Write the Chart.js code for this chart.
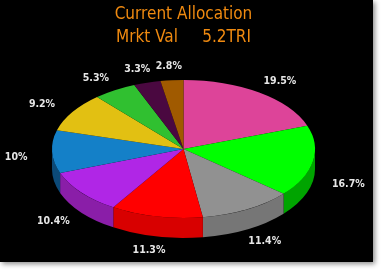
<!DOCTYPE html>
<html>
<head>
<meta charset="utf-8">
<script src="https://cdn.jsdelivr.net/npm/chart.js@4/dist/chart.umd.min.js"></script>
<style>
  html, body { margin: 0; padding: 0; background: #fff; }
  #frame {
    position: absolute; left: 0; top: 0;
    width: 373px; height: 262px;
    background: #000;
    box-shadow: 2px 2px 5px rgba(0, 0, 0, 0.45);
  }
  canvas { display: block; }
</style>
</head>
<body>
<div id="frame"><canvas id="allocChart" width="373" height="262"></canvas></div>
<script>
// chart data
const titleLines = ['Current Allocation', 'Mrkt Val     5.2TRI'];
const sliceLabels = ['19.5%', '16.7%', '11.4%', '11.3%', '10.4%', '10%', '9.2%', '5.3%', '3.3%', '2.8%'];
const sliceValues = [19.5, 16.7, 11.4, 11.3, 10.4, 10, 9.2, 5.3, 3.3, 2.8];
const topColors = ['#dd4499', '#00ff00', '#919191', '#ff0000', '#b026e6', '#1480c8', '#e2c012', '#30c030', '#4a0840', '#a05a00'];
const sideColors = ['#9c2c6c', '#00a400', '#767676', '#d80000', '#8a1ea8', '#0c4a78', '#a08a0c', '#208a20', '#300428', '#703e00'];

const STRETCH_X = 1.906;  // ellipse width / height
const DEPTH = 20;         // thickness of the pie

function norm(a) {
    const t = Math.PI * 2;
    return ((a % t) + t) % t;
}

// draws the side wall, squashes the top, puts the percent labels
const pie3d = {
    id: 'pie3d',
    beforeDatasetsDraw(chart) {
        const ctx = chart.ctx;
        const arcs = chart.getDatasetMeta(0).data;
        if (!arcs.length) return;
        const cx = arcs[0].x, cy = arcs[0].y, r = arcs[0].outerRadius;
        const rx = r * STRETCH_X, ry = r;

        // front wall, only the half facing us (angles 0..PI)
        arcs.forEach((arc, i) => {
            let a0 = norm(arc.startAngle);
            let a1 = a0 + (arc.endAngle - arc.startAngle);
            const parts = [[a0, a1], [a0 - Math.PI * 2, a1 - Math.PI * 2]];
            parts.forEach(([s, e]) => {
                const s2 = Math.max(s, 0), e2 = Math.min(e, Math.PI);
                if (e2 <= s2) return;
                ctx.save();
                ctx.beginPath();
                ctx.ellipse(cx, cy, rx, ry, 0, s2, e2, false);
                ctx.ellipse(cx, cy + DEPTH, rx, ry, 0, e2, s2, true);
                ctx.closePath();
                ctx.fillStyle = sideColors[i];
                ctx.fill();
                ctx.restore();
            });
        });

        ctx.save();
        ctx.translate(cx, cy);
        ctx.scale(STRETCH_X, 1);
        ctx.translate(-cx, -cy);
    },
    afterDatasetsDraw(chart) {
        const ctx = chart.ctx;
        ctx.restore();
        const arcs = chart.getDatasetMeta(0).data;
        if (!arcs.length) return;
        const cx = arcs[0].x, cy = arcs[0].y, r = arcs[0].outerRadius;
        const lx = r * STRETCH_X + 36, ly = r + 14;

        ctx.save();
        ctx.font = 'bold 10.5px "DejaVu Sans Condensed", "DejaVu Sans", sans-serif';
        ctx.fillStyle = '#e6e6e6';
        ctx.textAlign = 'center';
        ctx.textBaseline = 'middle';
        arcs.forEach((arc, i) => {
            const mid = (arc.startAngle + arc.endAngle) / 2;
            const s = Math.sin(mid + Math.PI / 2), c = Math.cos(mid + Math.PI / 2);
            let x = cx + lx * s;
            let y = cy - ly * c;
            if (c < 0) y += DEPTH * Math.min(1, -c * 6);
            ctx.fillText(sliceLabels[i], x, y);
        });
        ctx.restore();
    }
};

document.addEventListener('DOMContentLoaded', () => {
    const config = {
        type: 'pie',
        data: {
            labels: sliceLabels,
            datasets: [{
                data: sliceValues,
                backgroundColor: topColors,
                borderWidth: 0
            }]
        },
        options: {
            responsive: false,
            animation: false,
            events: [],
            layout: {
                padding: { top: 0, bottom: 44, left: 0, right: 6 }
            },
            plugins: {
                legend: { display: false },
                tooltip: { enabled: false },
                title: {
                    display: true,
                    text: titleLines,
                    color: '#f08a10',
                    font: { family: '"DejaVu Sans Condensed", "DejaVu Sans", sans-serif', size: 17, weight: 'normal', lineHeight: 1.353 },
                    padding: { top: 3, bottom: 31 }
                }
            }
        },
        plugins: [pie3d]
    };

    const ctx = document.getElementById('allocChart').getContext('2d');
    new Chart(ctx, config);
});
</script>
</body>
</html>
